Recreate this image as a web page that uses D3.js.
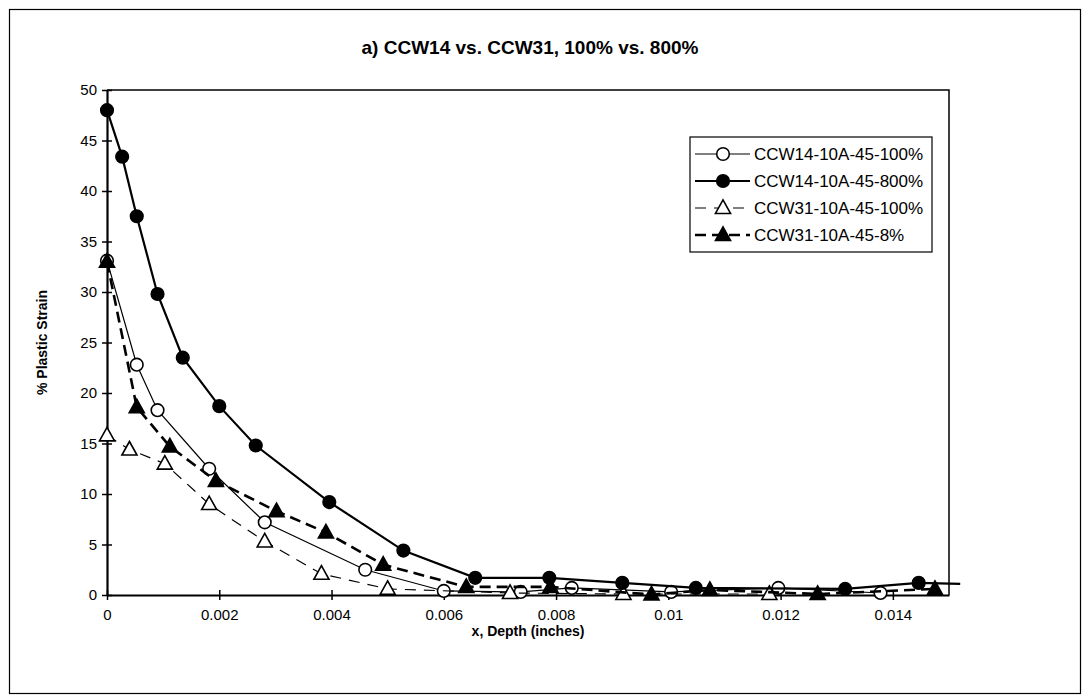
<!DOCTYPE html>
<html><head><meta charset="utf-8">
<script src="https://cdn.jsdelivr.net/npm/d3@7"></script>
<style>html,body{margin:0;padding:0;background:#fff}svg{display:block}</style>
</head><body>
<svg id="c" width="1090" height="699"></svg>
<script>
const title = "a)  CCW14 vs. CCW31, 100% vs. 800%";
const xTitle = "x, Depth (inches)";
const yTitle = "% Plastic Strain";
const xTicks = [0, 0.002, 0.004, 0.006, 0.008, 0.01, 0.012, 0.014];
const xTickLabels = ["0", "0.002", "0.004", "0.006", "0.008", "0.01", "0.012", "0.014"];
const yTicks = [0, 5, 10, 15, 20, 25, 30, 35, 40, 45, 50];
const seriesNames = ["CCW14-10A-45-100%", "CCW14-10A-45-800%", "CCW31-10A-45-100%", "CCW31-10A-45-8%"];

const ccw14_100_x = [0, 0.00053, 0.0009, 0.00182, 0.00281, 0.0046, 0.006, 0.00737, 0.00828, 0.01005, 0.01196, 0.01378];
const ccw14_100_y = [33.1, 22.8, 18.3, 12.5, 7.2, 2.5, 0.4, 0.3, 0.7, 0.3, 0.7, 0.2];
const ccw14_800_x = [0, 0.00027, 0.00053, 0.0009, 0.00135, 0.002, 0.00265, 0.00396, 0.00528, 0.00656, 0.00788, 0.00918, 0.01049, 0.01315, 0.01446, 0.0152];
const ccw14_800_y = [48.0, 43.4, 37.5, 29.8, 23.5, 18.7, 14.8, 9.2, 4.4, 1.7, 1.7, 1.2, 0.7, 0.6, 1.2, 1.1];
const ccw31_100_x = [0, 0.0004, 0.00103, 0.00182, 0.00281, 0.00382, 0.005, 0.00718, 0.0092, 0.0118];
const ccw31_100_y = [15.8, 14.4, 13.0, 9.0, 5.3, 2.1, 0.6, 0.2, 0.1, 0.1];
const ccw31_8_x = [0, 0.00053, 0.00112, 0.00194, 0.00302, 0.0039, 0.00492, 0.0064, 0.0079, 0.0097, 0.01074, 0.01266, 0.01475];
const ccw31_8_y = [33.0, 18.6, 14.7, 11.3, 8.3, 6.2, 3.0, 0.8, 0.8, 0.05, 0.5, 0.1, 0.6];

const svg = d3.select("#c");
const FONT = "'Liberation Sans', Arial, Helvetica, sans-serif";
const x = d3.scaleLinear().domain([0, 0.015]).range([107, 949]);
const y = d3.scaleLinear().domain([0, 50]).range([595, 90]);

// chart border
svg.append("rect").attr("x", 9.5).attr("y", 9.5).attr("width", 1071).attr("height", 684)
  .attr("fill", "none").attr("stroke", "#000").attr("stroke-width", 1.2);

// title
svg.append("text").attr("x", 530).attr("y", 54).attr("text-anchor", "middle")
  .attr("font-family", FONT).attr("font-weight", "bold").attr("font-size", 19).text(title);

// plot frame (top & right)
svg.append("path").attr("d", `M${x(0)},${y(50)}H${x(0.015)}V${y(0)}`)
  .attr("fill", "none").attr("stroke", "#000").attr("stroke-width", 1.5);

// axes
const xAxis = d3.axisBottom(x).tickValues(xTicks).tickFormat((d, i) => xTickLabels[i]).tickSizeInner(0).tickSizeOuter(0).tickPadding(14);
const gx = svg.append("g").attr("transform", `translate(0,${y(0)})`).call(xAxis);
const yAxis = d3.axisLeft(y).tickValues(yTicks).tickSizeInner(0).tickSizeOuter(0).tickPadding(10);
const gy = svg.append("g").attr("transform", `translate(${x(0)},0)`).call(yAxis);
[gx, gy].forEach(g => {
  g.select(".domain").attr("stroke", "#000").attr("stroke-width", 2.2);
  g.selectAll("text").attr("font-family", FONT).attr("font-size", 15).attr("fill", "#000");
});
gx.selectAll(".tick").append("line").attr("y1", -5).attr("y2", 5).attr("stroke", "#000").attr("stroke-width", 1.5);
gy.selectAll(".tick").append("line").attr("x1", -5).attr("x2", 5).attr("stroke", "#000").attr("stroke-width", 1.5);

// axis titles
svg.append("text").attr("x", x(0.0075)).attr("y", 636).attr("text-anchor", "middle")
  .attr("font-family", FONT).attr("font-weight", "bold").attr("font-size", 14).text(xTitle);
svg.append("text").attr("transform", `translate(47,${(y(0)+y(50))/2}) rotate(-90)`).attr("text-anchor", "middle")
  .attr("font-family", FONT).attr("font-weight", "bold").attr("font-size", 14).text(yTitle);

const series = [
  {xs: ccw14_100_x, ys: ccw14_100_y, marker: "circle", fill: "#fff", width: 1.2, dash: null},
  {xs: ccw31_100_x, ys: ccw31_100_y, marker: "triangle", fill: "#fff", width: 1.2, dash: "11,8"},
  {xs: ccw31_8_x, ys: ccw31_8_y, marker: "triangle", fill: "#000", width: 2.6, dash: "11,6"},
  {xs: ccw14_800_x, ys: ccw14_800_y, marker: "circle", fill: "#000", width: 2.2, dash: null},
];
const legendSeries = [series[0], series[3], series[1], series[2]];

const line = d3.line().x(d => x(d[0])).y(d => y(d[1]));
const triPath = s => `M0,${-s*0.62}L${s*0.58},${s*0.42}L${-s*0.58},${s*0.42}Z`;
function drawMarker(g, type, fill, cx, cy) {
  if (type === "circle") {
    g.append("circle").attr("cx", cx).attr("cy", cy).attr("r", 6.3)
      .attr("fill", fill).attr("stroke", "#000").attr("stroke-width", 1.6);
  } else {
    g.append("path").attr("d", triPath(13)).attr("transform", `translate(${cx},${cy})`)
      .attr("fill", fill).attr("stroke", "#000").attr("stroke-width", 1.6);
  }
}
series.forEach(s => {
  const pts = s.xs.map((v, i) => [v, s.ys[i]]);
  svg.append("path").datum(pts).attr("d", line).attr("fill", "none").attr("stroke", "#000")
    .attr("stroke-width", s.width).attr("stroke-dasharray", s.dash);
  const g = svg.append("g");
  pts.filter(p => p[0] <= 0.015).forEach(p => drawMarker(g, s.marker, s.fill, x(p[0]), y(p[1])));
});

// legend
const lg = svg.append("g");
const lx = 690, ly = 137, lw = 242, lh = 115;
lg.append("rect").attr("x", lx).attr("y", ly).attr("width", lw).attr("height", lh)
  .attr("fill", "#fff").attr("stroke", "#000").attr("stroke-width", 1.2);
legendSeries.forEach((s, i) => {
  const cy = ly + 17 + i * 27;
  lg.append("line").attr("x1", lx + 5).attr("x2", lx + 60).attr("y1", cy).attr("y2", cy)
    .attr("stroke", "#000").attr("stroke-width", s.width).attr("stroke-dasharray", s.dash);
  drawMarker(lg, s.marker, s.fill, lx + 33, cy);
  lg.append("text").attr("x", lx + 64).attr("y", cy + 6).attr("font-family", FONT)
    .attr("font-size", 17).text(seriesNames[i]);
});
</script>
</body></html>
